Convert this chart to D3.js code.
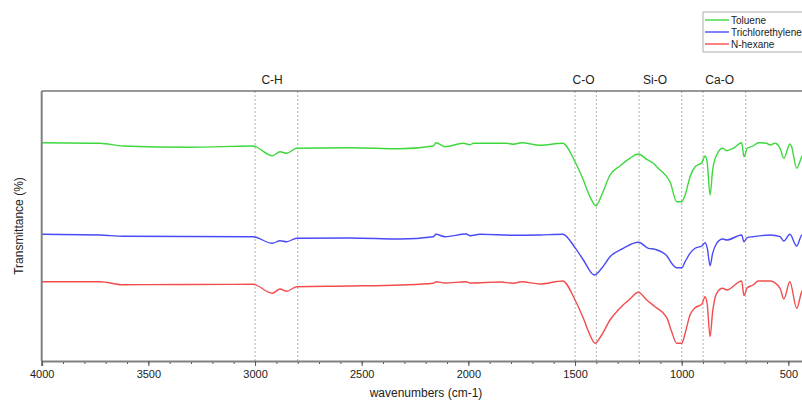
<!DOCTYPE html>
<html>
<head>
<meta charset="utf-8">
<script src="https://cdn.jsdelivr.net/npm/d3@7"></script>
<style>
  body { margin: 0; background: #fff; overflow: hidden; }
  svg { display: block; font-family: "Liberation Sans", Arial, sans-serif; }
</style>
</head>
<body>
<script>
// wavenumber (cm-1) and transmittance (arbitrary offset units)
const toluene = [
  [4000, 218.3], [3727, 217.7], [3619, 215], [3305, 213.7], [3010, 215], [2919, 205.3],
  [2883, 209.3], [2852, 207.7], [2805, 212.7], [2555, 213.3], [2320, 212.3], [2164, 215],
  [2152, 218.3], [2110, 214.3], [2024, 217.7], [1992, 216.3], [1977, 217.7], [1820, 217.7],
  [1789, 216.7], [1750, 218.3], [1664, 215.7], [1558, 217.7], [1500, 199.3], [1461, 181],
  [1430, 164.3], [1402, 155.3], [1375, 166], [1336, 186], [1290, 195], [1243, 202.7],
  [1203, 207], [1164, 201.7], [1133, 197.7], [1110, 192.7], [1070, 184.3], [1055, 179.3],
  [1023, 159.3], [1000, 159.3], [984, 166], [961, 184.3], [937, 194.3], [906, 198.3],
  [890, 205], [880, 197.7], [867, 166], [855, 191], [836, 206], [808, 212.7], [789, 210.3],
  [758, 212.7], [719, 218.3], [708, 204.3], [693, 212.7], [665, 215], [641, 218.3],
  [602, 217.7], [586, 216], [563, 217.7], [539, 212.7], [521, 202.7], [493, 217],
  [485, 214.3], [461, 192.7], [437, 204.3], [400, 211]
];
const trichlorethylene = [
  [4000, 126.7], [3727, 126], [3619, 124.7], [3010, 124.3], [2919, 117.7], [2883, 120.3],
  [2852, 119.3], [2805, 122.7], [2555, 123], [2320, 122], [2164, 124.3], [2152, 126.7],
  [2110, 124.3], [2010, 127], [1992, 125.3], [1946, 126.7], [1789, 125.7], [1664, 126],
  [1558, 126.7], [1500, 113.3], [1461, 101], [1410, 86], [1375, 92.7], [1336, 104.3],
  [1274, 112.7], [1203, 118.7], [1156, 112.7], [1125, 111.7], [1070, 105.3], [1047, 97.7],
  [1023, 93.3], [1000, 93.3], [984, 99.3], [961, 107.7], [937, 112.7], [906, 115],
  [890, 118.3], [880, 112.7], [867, 95.3], [855, 107.7], [836, 117.7], [808, 122],
  [789, 121], [719, 126], [708, 119.3], [693, 123.3], [665, 124.3], [586, 126],
  [539, 124.3], [521, 120], [493, 126.7], [461, 115], [437, 126], [400, 128]
];
const nHexane = [
  [4000, 79.3], [3727, 79.3], [3619, 76.3], [3010, 76.7], [2919, 67.7], [2883, 72],
  [2852, 69.7], [2805, 74.3], [2555, 75], [2320, 76], [2164, 77.7], [2152, 79.3],
  [2110, 78], [2010, 79.3], [1992, 78], [1850, 79], [1789, 77.7], [1750, 79.3],
  [1664, 77], [1558, 80], [1500, 61], [1461, 42.7], [1430, 26], [1406, 17.7],
  [1375, 26], [1336, 41], [1290, 52.7], [1243, 62], [1203, 68.7], [1164, 61],
  [1125, 54.3], [1070, 43.3], [1047, 29.3], [1023, 17.7], [1000, 17.7], [984, 27.7],
  [961, 46], [937, 53.3], [906, 56.7], [890, 64.3], [880, 56], [867, 24.3], [855, 49.3],
  [836, 67.7], [808, 72.7], [789, 71], [719, 80], [708, 65.3], [693, 73.3], [665, 76],
  [641, 80], [586, 80], [539, 72.7], [521, 62], [493, 79.3], [461, 52.7], [437, 69.3],
  [400, 76]
];

const seriesNames = ["Toluene", "Trichlorethylene", "N-hexane"];
const seriesColors = ["#3ed83e", "#4a4af6", "#f44c4c"];

// band marker lines and their labels
const bandLines = [3000, 2800, 1500, 1400, 1200, 1000, 900, 700];
const bandLabels = [
  { text: "C-H", at: 2920 },
  { text: "C-O", at: 1460 },
  { text: "Si-O", at: 1125 },
  { text: "Ca-O", at: 822 }
];
const xMajor = [4000, 3500, 3000, 2500, 2000, 1500, 1000, 500];

const width = 802, height = 401;
const plot = { left: 41.7, right: 809.7, top: 91, bottom: 361 };

const svg = d3.select("body").append("svg")
  .attr("width", width).attr("height", height);

const x = d3.scaleLinear().domain([4000, 400]).range([plot.left, plot.right]);
const y = d3.scaleLinear().domain([0, 270]).range([plot.bottom, plot.top]);

// dotted band lines
svg.append("g").selectAll("line")
  .data(bandLines)
  .enter().append("line")
  .attr("x1", d => x(d)).attr("x2", d => x(d))
  .attr("y1", plot.top).attr("y2", plot.bottom)
  .attr("stroke", "#9a9a9a").attr("stroke-width", 0.8)
  .attr("stroke-dasharray", "2,2");

svg.append("g").selectAll("text")
  .data(bandLabels)
  .enter().append("text")
  .attr("x", d => x(d.at)).attr("y", 84)
  .attr("text-anchor", "middle")
  .attr("font-size", 12).attr("fill", "#222")
  .text(d => d.text);

// spectra
const line = d3.line()
  .x(d => x(d[0]))
  .y(d => y(d[1]))
  .curve(d3.curveMonotoneX);

[toluene, trichlorethylene, nHexane].forEach((s, i) => {
  svg.append("path")
    .datum(s)
    .attr("fill", "none")
    .attr("stroke", seriesColors[i])
    .attr("stroke-width", 1.4)
    .attr("d", line);
});

// frame: top border, left and bottom axes
svg.append("line")
  .attr("x1", plot.left).attr("x2", plot.right)
  .attr("y1", plot.top).attr("y2", plot.top)
  .attr("stroke", "#333").attr("stroke-width", 1.2);

svg.append("line")
  .attr("x1", plot.left).attr("x2", plot.left)
  .attr("y1", plot.top).attr("y2", plot.bottom)
  .attr("stroke", "#808080").attr("stroke-width", 2);

const xAxisMinor = d3.axisBottom(x)
  .tickValues(d3.range(4000, 399, -100))
  .tickSize(3).tickFormat("");
const xAxis = d3.axisBottom(x)
  .tickValues(xMajor)
  .tickSize(5).tickPadding(4)
  .tickFormat(d3.format("d"));

svg.append("g")
  .attr("transform", `translate(0,${plot.bottom})`)
  .call(xAxisMinor)
  .call(g => g.select(".domain").remove())
  .selectAll("line").attr("stroke", "#555");

const gx = svg.append("g")
  .attr("transform", `translate(0,${plot.bottom})`)
  .call(xAxis);
gx.select(".domain").attr("stroke", "#808080").attr("stroke-width", 2);
gx.selectAll(".tick line").attr("stroke", "#555");
gx.selectAll(".tick text")
  .attr("font-size", 11).attr("fill", "#222")
  .attr("font-family", "Liberation Sans, Arial, sans-serif");

svg.append("text")
  .attr("x", 426).attr("y", 397)
  .attr("text-anchor", "middle")
  .attr("font-size", 12).attr("fill", "#222")
  .text("wavenumbers (cm-1)");

svg.append("text")
  .attr("transform", `translate(23,${(plot.top + plot.bottom) / 2}) rotate(-90)`)
  .attr("text-anchor", "middle")
  .attr("font-size", 12).attr("fill", "#222")
  .text("Transmittance (%)");

// legend
const legend = svg.append("g").attr("transform", "translate(703,12)");
legend.append("rect")
  .attr("x", 0).attr("y", 0)
  .attr("width", 120).attr("height", 40)
  .attr("fill", "#fff").attr("stroke", "#999").attr("stroke-width", 0.8);

const items = legend.selectAll(".item")
  .data(seriesNames)
  .enter().append("g")
  .attr("transform", (d, i) => `translate(0,${8 + i * 12})`);
items.append("line")
  .attr("x1", 2).attr("x2", 26)
  .attr("stroke", (d, i) => seriesColors[i]).attr("stroke-width", 1.4);
items.append("text")
  .attr("x", 28).attr("y", 3.5)
  .attr("font-size", 10).attr("fill", "#222")
  .text(d => d);
</script>
</body>
</html>
